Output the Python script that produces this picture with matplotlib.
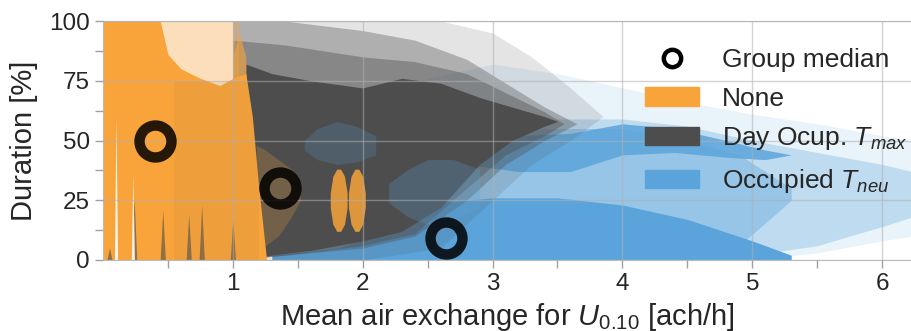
import matplotlib.pyplot as plt
from matplotlib.lines import Line2D
from matplotlib.patches import Patch
import numpy as np

plt.rcParams['font.family'] = ['Liberation Sans', 'DejaVu Sans']
plt.rcParams['mathtext.fontset'] = 'custom'
plt.rcParams['mathtext.rm'] = 'Liberation Sans'
plt.rcParams['mathtext.it'] = 'Liberation Sans:italic'

# colors
c_none = '#f9a43a'
c_day = '#4d4d4d'
c_occ = '#5ba4db'
c_text = '#262626'

# group medians (x = mean air exchange, y = duration)
med_x = [0.40, 1.36, 2.64]
med_y = [50, 30, 9]

# Occupied T_neu cloud, read as envelopes (x, lower, upper)
occ_haze_x = [1.3, 2.0, 2.5, 3.0, 3.5, 4.0, 4.5, 5.0, 5.5, 6.0, 6.23]
occ_haze_lo = [0, 0, 0, 0, 0, 0, 0, 0, 3, 8, 10]
occ_haze_hi = [55, 70, 76, 82, 78, 72, 66, 61, 57, 52, 50]
occ_mid_x = [1.4, 2.0, 2.5, 3.0, 3.5, 4.0, 4.5, 5.0, 5.5, 6.0, 6.23]
occ_mid_lo = [0, 0, 0, 0, 0, 0, 0, 2, 6, 14, 18]
occ_mid_hi = [40, 50, 55, 58, 59, 59, 56, 50, 45, 40, 37]
occ_dense_x = [1.6, 2.2, 2.8, 3.4, 4.0, 4.5, 4.9, 5.3]
occ_dense_lo = [0, 0, 0, 0, 0, 1, 6, 25]
occ_dense_hi = [30, 45, 52, 55, 55, 50, 44, 30]
occ_low_x = [1.3, 1.8, 2.2, 2.6, 3.0, 3.5, 4.0, 4.5, 5.0, 5.3]
occ_low_hi = [2, 5, 12, 24, 26, 26, 23, 17, 8, 2]
occ_band_x = [2.8, 3.2, 3.6, 4.0, 4.4, 4.8, 5.1, 5.3]
occ_band_lo = [40, 37, 37, 44, 45, 43, 42, 44]
occ_band_hi = [48, 52, 53, 57, 55, 50, 46, 44]
occ_tint1_x = [1.55, 1.65, 1.8, 1.95, 2.1]
occ_tint1_lo = [46, 42, 40, 41, 44]
occ_tint1_hi = [50, 55, 58, 56, 52]
occ_tint2_x = [2.2, 2.35, 2.5, 2.7, 2.9]
occ_tint2_lo = [24, 18, 15, 17, 22]
occ_tint2_hi = [32, 38, 42, 42, 38]

# Day Ocup. T_max cloud
day_haze_x = [1.0, 2.0, 2.6, 3.0, 3.3, 3.6, 3.85]
day_haze_lo = [0, 0, 5, 25, 40, 50, 60]
day_haze_hi = [100, 100, 100, 95, 85, 72, 60]
day_mid_x = [1.0, 1.4, 2.0, 2.4, 2.8, 3.1, 3.4, 3.65]
day_mid_lo = [0, 2, 5, 10, 25, 40, 50, 57]
day_mid_hi = [100, 100, 96, 92, 84, 74, 64, 57]
day_mid2_x = [1.0, 1.4, 2.0, 2.4, 2.8, 3.1, 3.4, 3.55]
day_mid2_lo = [0, 2, 6, 11, 30, 44, 52, 57]
day_mid2_hi = [92, 90, 85, 83, 78, 70, 62, 57]
day_core_x = [1.1, 1.3, 1.6, 2.0, 2.3, 2.6, 2.9, 3.15, 3.4, 3.5]
day_core_lo = [0, 2, 4, 8, 12, 22, 40, 50, 56, 58]
day_core_hi = [82, 78, 75, 72, 76, 74, 68, 64, 60, 58]
day_spike_x = [0.05, 0.24, 0.46, 0.66, 0.76, 1.0]
day_spike_h = [5, 26, 21, 19, 23, 17]

# None cloud
none_fringe_x = [0.44, 1.05]
none_fringe_hi = [100, 100]
none_core_x = [0, 0.44, 0.5, 0.6, 0.75, 0.9, 1.0, 1.1, 1.15, 1.2, 1.26]
none_core_hi = [100, 100, 86, 80, 76, 73, 76, 78, 60, 30, 0]
none_streak_x = [1.0, 1.05, 1.1]
none_streak_hi = [85, 95, 85]
none_haze_x = [1.18, 1.25, 1.35, 1.45, 1.52]
none_haze_lo = [5, 6, 10, 18, 25]
none_haze_hi = [48, 46, 42, 38, 32]
none_blob1_x = [1.75, 1.77, 1.8, 1.83, 1.86, 1.88]
none_blob2_x = [1.89, 1.91, 1.94, 1.97, 2.0, 2.02]
none_blob_lo = [22, 15, 12, 12, 15, 22]
none_blob_hi = [28, 35, 38, 38, 35, 28]
white_spike_x = [0.10, 0.23]
white_spike_h = [60, 36]

fig = plt.figure(figsize=(9.12, 3.31), dpi=100)
ax = fig.add_axes([103 / 912, 71 / 331, 809 / 912, 239 / 331])

# blue first (lowest)
ax.fill_between(occ_haze_x, occ_haze_lo, occ_haze_hi, color=c_occ, alpha=0.13, lw=0)
ax.fill_between(occ_mid_x, occ_mid_lo, occ_mid_hi, color=c_occ, alpha=0.3, lw=0)
ax.fill_between(occ_dense_x, occ_dense_lo, occ_dense_hi, color=c_occ, alpha=0.4, lw=0)
ax.fill_between(occ_low_x, 0, occ_low_hi, color=c_occ, alpha=1, lw=0)
ax.fill_between(occ_band_x, occ_band_lo, occ_band_hi, color=c_occ, alpha=0.85, lw=0)

# grey cloud
ax.fill_between(day_haze_x, day_haze_lo, day_haze_hi, color=c_day, alpha=0.15, lw=0)
ax.fill_between(day_mid_x, day_mid_lo, day_mid_hi, color=c_day, alpha=0.35, lw=0)
ax.fill_between(day_mid2_x, day_mid2_lo, day_mid2_hi, color=c_day, alpha=0.4, lw=0)
ax.fill_between(day_core_x, day_core_lo, day_core_hi, color=c_day, alpha=1, lw=0)
ax.fill_between(occ_tint1_x, occ_tint1_lo, occ_tint1_hi, color=c_occ, alpha=0.2, lw=0)
ax.fill_between(occ_tint2_x, occ_tint2_lo, occ_tint2_hi, color=c_occ, alpha=0.25, lw=0)

# orange cloud
ax.fill_between(none_fringe_x, 0, none_fringe_hi, color=c_none, alpha=0.35, lw=0)
ax.fill_between(none_core_x, 0, none_core_hi, color=c_none, alpha=1, lw=0)
ax.fill_between(none_streak_x, 70, none_streak_hi, color=c_none, alpha=0.6, lw=0)
ax.fill_between(none_haze_x, none_haze_lo, none_haze_hi, color=c_none, alpha=0.22, lw=0)
ax.fill_between(none_blob1_x, none_blob_lo, none_blob_hi, color=c_none, alpha=0.85, lw=0)
ax.fill_between(none_blob2_x, none_blob_lo, none_blob_hi, color=c_none, alpha=0.85, lw=0)
ax.fill_between([0.55, 1.2], 0, [75, 75], color=c_day, alpha=0.06, lw=0)

w = 0.02
for xc, h in zip(day_spike_x, day_spike_h):
    ax.fill_between([xc - w, xc, xc + w], 0, [0, h, 0], color=c_day, alpha=0.6, lw=0)
for xc, h in zip(white_spike_x, white_spike_h):
    ax.fill_between([xc - 0.012, xc, xc + 0.012], 0, [0, h, 0], color='white', alpha=0.9, lw=0)

# medians
ax.plot(med_x, med_y, 'o', ls='', mfc='none', mec='black', alpha=0.85, ms=23, mew=7.5, zorder=5)

ax.set_xlim(0, 6.23)
ax.set_ylim(0, 100)
ax.set_xticks([1, 2, 3, 4, 5, 6])
ax.set_xticks(np.arange(0.5, 6.5, 1.0), minor=True)
ax.set_yticks([0, 25, 50, 75, 100])
ax.set_yticks([12.5, 37.5, 62.5, 87.5], minor=True)
ax.grid(which='major', color='#b0b0b0', alpha=0.55, lw=1)
ax.set_axisbelow(False)
ax.tick_params(which='both', direction='out', color='#a0a0a0', length=6, width=1,
               labelsize=17.5, labelcolor=c_text)
for s in ['left', 'bottom', 'top']:
    ax.spines[s].set_color('#bbbbbb')
ax.spines['right'].set_visible(False)

ax.set_xlabel('Mean air exchange for $U_{0.10}$ [ach/h]', fontsize=21, color=c_text, labelpad=4)
ax.set_ylabel('Duration [%]', fontsize=21, color=c_text, labelpad=8)

handles = [Line2D([], [], marker='o', ls='', mfc='none', mec='black', ms=12.5, mew=3.2),
           Patch(color=c_none), Patch(color=c_day), Patch(color=c_occ)]
labels = ['Group median', 'None', 'Day Ocup. $T_{max}$', 'Occupied $T_{neu}$']
leg = ax.legend(handles, labels, loc='upper left', bbox_to_anchor=(0.6695, 0.888),
                frameon=False, fontsize=19, borderpad=0, borderaxespad=0,
                handlelength=2.07, handletextpad=0.85, labelspacing=0.56)
for t in leg.get_texts():
    t.set_color(c_text)

plt.savefig('out.png', dpi=100)
